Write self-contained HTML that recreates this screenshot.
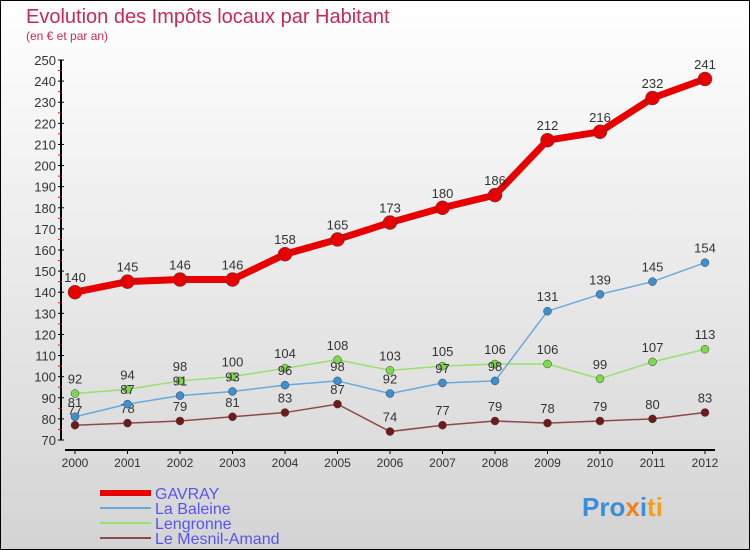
<!DOCTYPE html>
<html><head><meta charset="utf-8"><style>
body{margin:0}
#c{width:750px;height:550px;position:relative;overflow:hidden;font-family:"Liberation Sans",sans-serif}
</style></head><body>
<div id="c">
<svg id="s" width="750" height="550" xmlns="http://www.w3.org/2000/svg">
<defs><linearGradient id="bg" x1="0" y1="0" x2="0" y2="1"><stop offset="0" stop-color="#ffffff"/><stop offset="1" stop-color="#d4d4d4"/></linearGradient></defs>
<rect x="0.5" y="0.5" width="749" height="549" fill="url(#bg)" stroke="#000"/>
<text x="26" y="23" font-size="20" fill="#c8285a">Evolution des Impôts locaux par Habitant</text>
<text x="26" y="40" font-size="12" fill="#c8285a">(en € et par an)</text>
<g id="axes"></g><g id="plot"></g><g id="legend"></g>
<text x="582" y="516" font-size="26" font-weight="bold"><tspan fill="#3a8fd8">Pro</tspan><tspan fill="#f08020">x</tspan><tspan fill="#3a8fd8">i</tspan><tspan fill="#f0a020">ti</tspan></text>
</svg></div>
<script>
const years=[2000,2001,2002,2003,2004,2005,2006,2007,2008,2009,2010,2011,2012];
const gavray=[140,145,146,146,158,165,173,180,186,212,216,232,241];
const baleine=[81,87,91,93,96,98,92,97,98,131,139,145,154];
const lengronne=[92,94,98,100,104,108,103,105,106,106,99,107,113];
const mesnil=[77,78,79,81,83,87,74,77,79,78,79,80,83];
const yTicks=[70,80,90,100,110,120,130,140,150,160,170,180,190,200,210,220,230,240,250];
const NS="http://www.w3.org/2000/svg";
const X=i=>75+i*(630/(years.length-1));
const Y=v=>440-(v-70)*(380/180);
function mk(t,a,p){const e=document.createElementNS(NS,t);for(const k in a)e.setAttribute(k,a[k]);p.appendChild(e);return e;}
const ax=document.getElementById('axes'),pl=document.getElementById('plot'),lg=document.getElementById('legend');
let e=mk('line',{x1:61,y1:Y(250),x2:61,y2:Y(70),stroke:'#000','stroke-width':2},ax);

e=mk('line',{x1:X(0)-10,y1:450,x2:X(12)+10,y2:450,stroke:'#000','stroke-width':2},ax);

yTicks.forEach((v,i)=>{mk('line',{x1:58,y1:Y(v),x2:64,y2:Y(v),stroke:'#000'},ax);
 if(i<yTicks.length-1)mk('line',{x1:58,y1:Y(v+5),x2:61,y2:Y(v+5),stroke:'#f00'},ax);
 const t=mk('text',{x:56,y:Y(v)+5,'text-anchor':'end','font-size':13,fill:'#333'},ax);t.textContent=v;
 });
years.forEach((y,i)=>{mk('line',{x1:X(i),y1:450,x2:X(i),y2:454,stroke:'#000'},ax);
 const t=mk('text',{x:X(i),y:467,'text-anchor':'middle','font-size':12,fill:'#333'},ax);t.textContent=y;
 });
const series=[[mesnil,'#6e1a1a','#8b4a4a',1.5,4,'le-mesnil-amand'],[lengronne,'#7ed84a','#99e070',1.5,4,'lengronne'],[baleine,'#3d8fcf','#6aaad8',1.5,4,'la-baleine'],[gavray,'#e80000','#e80000',7,7,'gavray']];
series.forEach(([d,c,lc,w,r,n])=>{
 const pts=d.map((v,i)=>X(i)+','+Y(v)).join(' ');
 const l=mk('polyline',{points:pts,fill:'none',stroke:lc,'stroke-width':w},pl);
 
 d.forEach((v,i)=>{const p=mk('circle',{cx:X(i),cy:Y(v),r:r,fill:c,stroke:'#444','stroke-width':0.5},pl);
  
  const t=mk('text',{x:X(i),y:Y(v)-10,'text-anchor':'middle','font-size':13,fill:'#333'},pl);t.textContent=v;
  });
});
const leg=[['GAVRAY','#e80000',6],['La Baleine','#6aaad8',2],['Lengronne','#99e070',2],['Le Mesnil-Amand','#8b4a4a',2]];
leg.forEach(([n,c,w],i)=>{const y=493+i*15;
 mk('line',{x1:100,y1:y,x2:151,y2:y,stroke:c,'stroke-width':w},lg);
 const t=mk('text',{x:155,y:y+6,'font-size':16,fill:'#5555ee'},lg);t.textContent=n;
 });
</script>
</body></html>
